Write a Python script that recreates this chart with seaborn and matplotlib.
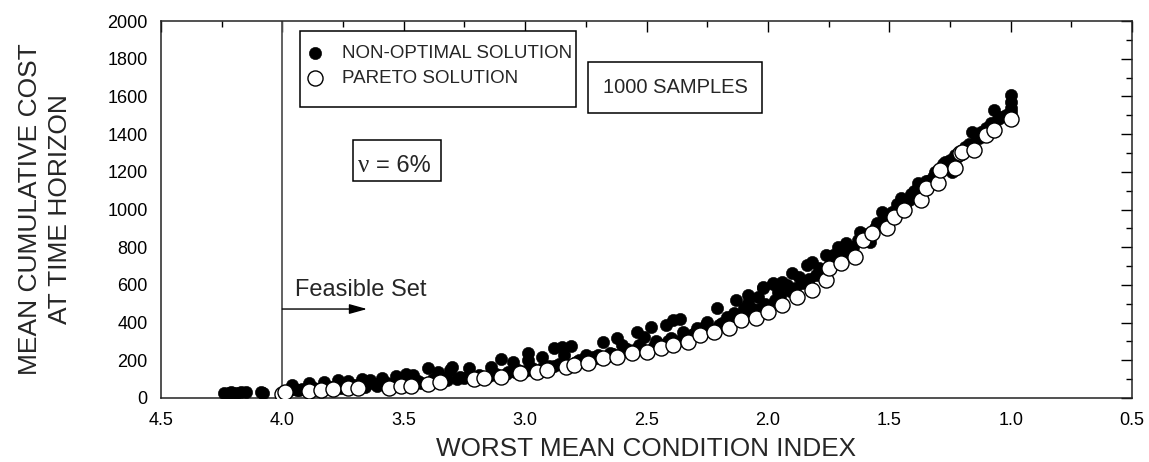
import matplotlib
matplotlib.use("Agg")
import matplotlib.pyplot as plt
from matplotlib.patches import Rectangle
from matplotlib.ticker import MultipleLocator, FixedLocator
import seaborn as sns
import pandas as pd

# ---------------- data ----------------
pareto_x = [4.00, 3.99, 3.89, 3.84, 3.79, 3.73, 3.69, 3.56, 3.51, 3.47, 3.40, 3.35,
            3.21, 3.17, 3.10, 3.02, 2.95, 2.91, 2.83, 2.80, 2.74, 2.68, 2.62, 2.56,
            2.50, 2.44, 2.39, 2.33, 2.28, 2.22, 2.16, 2.11, 2.05, 2.00, 1.94, 1.88,
            1.82, 1.76, 1.75, 1.70, 1.64, 1.61, 1.57, 1.51, 1.48, 1.44, 1.37, 1.35,
            1.30, 1.29, 1.23, 1.21, 1.20, 1.15, 1.10, 1.07, 1.00]
pareto_y = [22, 32, 37, 42, 48, 53, 53, 53, 64, 64, 74, 85,
            101, 106, 111, 133, 138, 149, 164, 175, 186, 212, 218, 239,
            244, 265, 281, 297, 334, 350, 371, 414, 424, 456, 493, 536,
            573, 626, 690, 716, 748, 838, 875, 902, 960, 997, 1050, 1114,
            1140, 1210, 1220, 1300, 1305, 1315, 1395, 1422, 1480]

# scattered non-optimal solutions (clearly above the front)
nonopt_x = [4.24, 4.22, 4.21, 4.19, 4.17, 4.15, 4.09, 4.08,
            3.97, 3.96, 3.94, 3.92, 3.89, 3.87, 3.85, 3.83, 3.80, 3.77, 3.75, 3.73,
            3.70, 3.67, 3.64, 3.62, 3.59, 3.57, 3.53, 3.49, 3.46, 3.44, 3.40, 3.38,
            3.36, 3.33, 3.31, 3.30, 3.27, 3.23, 3.19, 3.14, 3.12, 3.10, 3.07, 3.05,
            3.03, 2.99, 2.99, 2.97, 2.93, 2.90, 2.88, 2.85, 2.84, 2.81, 2.78, 2.75,
            2.72, 2.70, 2.68, 2.65, 2.62, 2.60, 2.58, 2.54, 2.53, 2.51, 2.48, 2.46,
            2.42, 2.40, 2.39, 2.36, 2.35, 2.31, 2.29, 2.26, 2.25, 2.21, 2.19, 2.17,
            2.14, 2.13, 2.10, 2.08, 2.08, 2.04, 2.02, 2.02, 1.98, 1.98, 1.96, 1.94,
            1.92, 1.90, 1.87, 1.84, 1.82, 1.79, 1.76, 1.73, 1.71, 1.68, 1.66, 1.62,
            1.60, 1.58, 1.55, 1.53, 1.50, 1.47, 1.45, 1.42, 1.40, 1.38, 1.35, 1.32,
            1.28, 1.24, 1.22, 1.18, 1.16, 1.13, 1.10, 1.07, 1.05, 1.02, 1.00, 1.00,
            1.00, 1.00]
nonopt_y = [25, 28, 30, 27, 32, 30, 32, 28,
            45, 69, 42, 50, 80, 55, 48, 85, 60, 95, 65, 90,
            70, 101, 95, 75, 106, 80, 117, 127, 122, 90, 159, 100,
            138, 105, 149, 164, 110, 159, 120, 164, 125, 207, 140, 191,
            150, 239, 201, 160, 218, 170, 265, 270, 228, 276, 200, 228,
            218, 230, 297, 240, 318, 281, 260, 350, 280, 324, 377, 300,
            387, 320, 414, 419, 350, 340, 371, 380, 403, 477, 400, 430,
            450, 520, 480, 546, 504, 536, 583, 589, 605, 610, 560, 615,
            600, 663, 640, 706, 722, 690, 760, 760, 801, 822, 800, 881,
            860, 828, 930, 987, 960, 1030, 1061, 1050, 1100, 1140, 1150, 1172,
            1240, 1199, 1280, 1330, 1411, 1380, 1430, 1528, 1480, 1500, 1607, 1570,
            1538, 1515]

# non-optimal solutions lying just above the front (dense band)
band_x = [3.98, 3.93, 3.90, 3.86, 3.81, 3.76, 3.71, 3.66, 3.61, 3.54, 3.49, 3.43,
          3.38, 3.32, 3.28, 3.25, 3.19, 3.15, 3.12, 3.08, 3.04, 3.00, 2.97, 2.93,
          2.88, 2.86, 2.79, 2.77, 2.71, 2.66, 2.64, 2.59, 2.55, 2.52, 2.47, 2.45,
          2.41, 2.37, 2.34, 2.30, 2.27, 2.24, 2.20, 2.18, 2.15, 2.12, 2.09, 2.06,
          2.03, 2.01, 1.97, 1.95, 1.91, 1.89, 1.86, 1.83, 1.80, 1.78, 1.74, 1.72,
          1.69, 1.67, 1.65, 1.63, 1.59, 1.56, 1.54, 1.52, 1.49, 1.46, 1.43, 1.41,
          1.39, 1.36, 1.34, 1.31, 1.27, 1.25, 1.23, 1.19, 1.17, 1.14, 1.12, 1.09,
          1.08, 1.04, 1.01]
band_y = [35, 40, 45, 48, 52, 55, 60, 60, 62, 66, 72, 80,
          88, 95, 100, 105, 112, 118, 122, 128, 140, 145, 150, 158,
          170, 178, 192, 198, 210, 225, 232, 248, 255, 262, 275, 285,
          300, 305, 318, 345, 355, 365, 385, 395, 420, 440, 455, 470,
          480, 500, 520, 540, 570, 585, 610, 630, 655, 680, 730, 745,
          770, 790, 800, 840, 870, 900, 930, 950, 985, 1020, 1040, 1080,
          1100, 1130, 1150, 1200, 1250, 1260, 1290, 1330, 1350, 1380, 1410, 1440,
          1460, 1490, 1500]

x_ticks = [4.5, 4.0, 3.5, 3.0, 2.5, 2.0, 1.5, 1.0, 0.5]
x_tick_labels = ["4.5", "4.0", "3.5", "3.0", "2.5", "2.0", "1.5", "1.0", "0.5"]
y_ticks = [0, 200, 400, 600, 800, 1000, 1200, 1400, 1600, 1800, 2000]

label_nonopt = "NON-OPTIMAL SOLUTION"
label_pareto = "PARETO SOLUTION"

df_non = pd.DataFrame({"x": nonopt_x + band_x, "y": nonopt_y + band_y})
df_par = pd.DataFrame({"x": pareto_x, "y": pareto_y})

# ---------------- figure ----------------
sns.set_theme(style="white")
plt.rcParams['font.family'] = ['Liberation Sans', 'DejaVu Sans']

W, H = 1149, 462
fig = plt.figure(figsize=(W / 100, H / 100), dpi=100)
L, R, T, B = 161, 1132, 21, 398
ax = fig.add_axes([L / W, 1 - B / H, (R - L) / W, (B - T) / H])

def px2ax(px, py):
    return (px - L) / (R - L), (B - py) / (B - T)

ax.axvline(4.0, color="#555555", lw=1.3, zorder=1)

sns.scatterplot(data=df_non, x="x", y="y", ax=ax, color="black", s=78,
                edgecolor="black", linewidth=0.4, zorder=3, label=label_nonopt)
sns.scatterplot(data=df_par, x="x", y="y", ax=ax, color="white", s=118,
                edgecolor="black", linewidth=1.0, zorder=4, label=label_pareto)

ax.set_xlim(4.5, 0.5)
ax.set_ylim(0, 2000)
ax.xaxis.set_major_locator(FixedLocator(x_ticks))
ax.set_xticklabels(x_tick_labels)
ax.xaxis.set_minor_locator(MultipleLocator(0.25))
ax.yaxis.set_major_locator(FixedLocator(y_ticks))
ax.yaxis.set_minor_locator(MultipleLocator(100))
ax.tick_params(which="both", direction="in", top=True, right=True,
               colors="black", width=1.0)
ax.tick_params(which="major", length=8)
ax.tick_params(which="minor", length=4)
ax.tick_params(axis="x", which="major", pad=10, labelsize=13)
ax.tick_params(axis="y", which="major", pad=9.5, labelsize=13)
for sp in ax.spines.values():
    sp.set_color("#222222")
    sp.set_linewidth(1.1)

ax.set_xlabel("WORST MEAN CONDITION INDEX", fontsize=18.8, labelpad=6)
ax.set_ylabel("MEAN CUMULATIVE COST\nAT TIME HORIZON", fontsize=19,
              linespacing=1.3)
ax.yaxis.set_label_coords(px2ax(72, 0)[0], 0.5)

# legend
leg = ax.legend(loc="center left", bbox_to_anchor=px2ax(306, 66),
                frameon=False, fontsize=13.5, handlelength=1.0,
                handletextpad=0.9, labelspacing=0.4, borderpad=0,
                borderaxespad=0)
x0, y0 = px2ax(300, 107)
x1, y1 = px2ax(576, 31)
ax.add_patch(Rectangle((x0, y0), x1 - x0, y1 - y0, transform=ax.transAxes,
                       fill=True, facecolor="white", edgecolor="black",
                       lw=1.1, zorder=5))
leg.set_zorder(6)

# 1000 SAMPLES box
x0, y0 = px2ax(588, 113)
x1, y1 = px2ax(762, 62)
ax.add_patch(Rectangle((x0, y0), x1 - x0, y1 - y0, transform=ax.transAxes,
                       fill=True, facecolor="white", edgecolor="black",
                       lw=1.1, zorder=5))
ax.text((x0 + x1) / 2, (y0 + y1) / 2, "1000 SAMPLES", transform=ax.transAxes,
        ha="center", va="center", fontsize=14.5, zorder=6)

# nu box
x0, y0 = px2ax(353, 181)
x1, y1 = px2ax(441, 140)
ax.add_patch(Rectangle((x0, y0), x1 - x0, y1 - y0, transform=ax.transAxes,
                       fill=True, facecolor="white", edgecolor="black",
                       lw=1.1, zorder=5))
ax.text(*px2ax(358, 172), "ν", transform=ax.transAxes, ha="left",
        va="baseline", fontsize=18, family=["Liberation Serif", "DejaVu Serif"],
        zorder=6)
ax.text(*px2ax(376, 172), "= 6%", transform=ax.transAxes, ha="left",
        va="baseline", fontsize=17, zorder=6)

# Feasible set annotation
ax.text(3.948, 541, "Feasible Set", ha="left", va="baseline", fontsize=17)
ax.annotate("", xy=(3.651, 472), xytext=(4.0, 472),
            arrowprops=dict(arrowstyle="-|>,head_length=0.9,head_width=0.25",
                            color="black", lw=1.0, shrinkA=0, shrinkB=0))

fig.savefig("out.png", dpi=100, facecolor="white")
